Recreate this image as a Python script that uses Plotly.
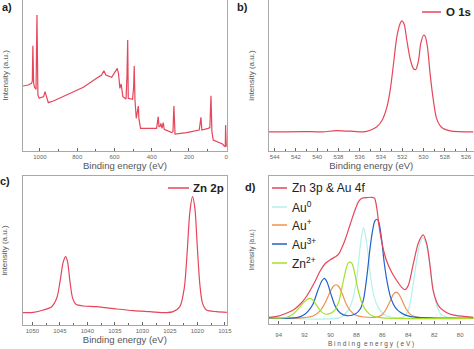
import plotly.graph_objects as go

# ---------------- data ----------------
# a) survey spectrum
a_be = [1091, 1063, 1045, 1041, 1038, 1034, 1029, 1021, 1016, 1011, 1004, 991, 980, 973, 968, 955,
        928, 857, 767, 696, 669, 657, 646, 615, 597, 585, 578, 571, 564, 555, 538, 533, 529, 526,
        503, 497, 494, 490, 483, 478, 472, 469, 460, 374, 369, 365, 361, 354, 351, 345, 338, 333,
        293, 286, 281, 275, 213, 145, 136, 131, 97, 88, 82, 77, 70, 34, 20, 11, 5, 3.6, 0]
a_int = [195, 198, 203, 210, 316, 203, 191, 185, 408, 168, 158, 161, 163, 178, 168, 145,
         150, 168, 191, 218, 228, 241, 228, 221, 235, 248, 231, 188, 201, 163, 156, 223, 333, 158,
         155, 193, 255, 153, 98, 123, 135, 98, 68, 68, 91, 103, 73, 75, 83, 68, 85, 65,
         55, 58, 135, 51, 55, 63, 101, 63, 68, 70, 166, 58, 33, 25, 21, 15, 13, 78, 13]

# b) O 1s
b_be = [544.53, 541.28, 539.5, 538.15, 535.64, 535.01, 534.39, 533.92, 533.45, 533.14, 532.82, 532.51,
        532.20, 532.04, 531.82, 531.57, 531.26, 530.94, 530.73, 530.47, 530.26, 530.00, 529.85,
        529.63, 529.38, 529.07, 528.75, 528.28, 527.50, 525.31]
b_int = [57, 58, 57, 61, 57, 62, 72, 90, 130, 180, 260, 340, 380, 388, 378, 330, 275, 245, 243,
         270, 320, 345, 342, 310, 230, 150, 95, 70, 60, 57]

# c) Zn 2p
c_be = [1051.76, 1049.82, 1048.0, 1046.49, 1045.58, 1044.97, 1044.37, 1043.94, 1043.58, 1043.16,
        1042.67, 1042.07, 1040.73, 1038.31, 1034.68, 1031.65, 1028.62, 1025.59, 1024.38, 1023.17,
        1022.38, 1021.84, 1021.35, 1020.87, 1020.44, 1020.02, 1019.53, 1019.05, 1018.32, 1016.51,
        1014.63]
c_int = [37, 38, 45, 55, 80, 130, 190, 205, 188, 130, 80, 62, 57, 55, 48, 43, 40, 37, 40, 55,
         110, 220, 340, 385, 350, 240, 120, 65, 45, 40, 38]

# d) Zn 3p & Au 4f envelope and components
d_env_be = [94.77, 94.13, 93.36, 92.84, 92.33, 91.82, 91.30, 90.79, 90.40, 90.02, 89.63, 89.38, 89.12,
            88.86, 88.48, 88.09, 87.84, 87.58, 87.19, 86.81, 86.60, 86.42, 86.22, 85.96, 85.65, 85.27,
            84.88, 84.50, 84.26, 84.01, 83.62, 83.21, 82.85, 82.57, 82.34, 82.08, 81.80, 81.57, 81.16,
            80.80, 80.26, 79.51, 78.97]
d_env_int = [20, 23, 33, 43, 60, 85, 120, 160, 182, 193, 202, 210, 230, 255, 300, 345, 368, 378, 380,
             381, 378, 345, 285, 230, 187, 155, 130, 110, 103, 115, 180, 245, 268, 240, 180, 100, 65,
             50, 37, 30, 25, 22, 20]

au0_be = [94.77, 89.25, 88.89, 88.50, 88.22, 87.99, 87.76, 87.60, 87.45, 87.30, 87.12, 86.88, 86.63,
          86.32, 85.93, 85.39, 84.62, 84.37, 84.01, 83.62, 83.34, 83.08, 82.85, 82.62, 82.36, 82.11,
          81.80, 81.49, 81.03, 78.97]
au0_int = [18, 19, 30, 50, 85, 133, 215, 265, 290, 265, 215, 133, 80, 50, 30, 21, 19, 21, 40, 120,
           195, 245, 260, 240, 185, 110, 55, 30, 21, 18]

aup_be = [94.77, 92.07, 91.30, 90.79, 90.40, 90.07, 89.81, 89.58, 89.35, 89.09, 88.79, 88.48, 88.09,
          87.45, 86.42, 86.04, 85.70, 85.39, 85.14, 84.93, 84.73, 84.47, 84.16, 83.85, 83.34, 78.97]
aup_int = [17, 19, 25, 40, 65, 93, 112, 118, 112, 90, 60, 40, 27, 21, 21, 27, 45, 70, 90, 96, 90, 70,
           45, 29, 21, 17]

au3_be = [94.77, 92.59, 92.07, 91.69, 91.35, 90.99, 90.66, 90.48, 90.28, 89.97, 89.63, 89.25, 88.73,
          88.09, 87.71, 87.45, 87.19, 86.96, 86.76, 86.58, 86.42, 86.27, 86.06, 85.86, 85.60, 85.34,
          85.01, 84.62, 84.11, 83.34, 78.97]
au3_int = [17, 19, 27, 40, 60, 100, 130, 137, 127, 90, 53, 33, 25, 30, 45, 75, 145, 225, 280, 310,
           315, 305, 255, 185, 120, 77, 50, 35, 25, 20, 17]

zn_be = [94.77, 93.36, 92.90, 92.46, 92.07, 91.82, 91.61, 91.38, 91.05, 90.74, 90.43, 90.07, 89.71,
         89.38, 89.09, 88.84, 88.66, 88.50, 88.32, 88.12, 87.86, 87.55, 87.19, 86.81, 86.17, 78.97]
zn_int = [18, 20, 30, 47, 65, 74, 77, 73, 55, 38, 30, 31, 40, 65, 115, 160, 182, 187, 180, 150, 100,
          60, 37, 25, 19, 17]

a_ticks = [1000, 800, 600, 400, 200, 0]
b_ticks = [544, 542, 540, 538, 536, 534, 532, 530, 528, 526]
c_ticks = [1050, 1045, 1040, 1035, 1030, 1025, 1020, 1015]
d_ticks = [94, 92, 90, 88, 86, 84, 82, 80]

# ---------------- style ----------------
RED = "#e6455a"
CYAN = "#b4f0ec"
ORANGE = "#f0904c"
BLUE = "#2462c8"
GREEN = "#a4e02a"
FRAME = "#a8a8a8"
FONT = "Liberation Sans, Arial, sans-serif"

W, H = 474, 349
def px(x):
    return x / W
def py(y):
    return 1 - y / H

fig = go.Figure()
lw = 1.2
fig.add_trace(go.Scatter(x=a_be, y=a_int, mode="lines", line=dict(color=RED, width=lw),
                         xaxis="x", yaxis="y", showlegend=False))
fig.add_trace(go.Scatter(x=b_be, y=b_int, mode="lines", line=dict(color=RED, width=lw, shape="spline", smoothing=0.8),
                         xaxis="x2", yaxis="y2", showlegend=False))
fig.add_trace(go.Scatter(x=c_be, y=c_int, mode="lines", line=dict(color=RED, width=lw, shape="spline", smoothing=0.8),
                         xaxis="x3", yaxis="y3", showlegend=False))
for xs, ys, col in [(au0_be, au0_int, CYAN), (aup_be, aup_int, ORANGE), (au3_be, au3_int, BLUE),
                    (zn_be, zn_int, GREEN), (d_env_be, d_env_int, RED)]:
    fig.add_trace(go.Scatter(x=xs, y=ys, mode="lines",
                             line=dict(color=col, width=lw, shape="spline", smoothing=0.8),
                             xaxis="x4", yaxis="y4", showlegend=False))

def xax(domain, rng, ticks, minor_dt, anchor, mirror, title, tsize=9.5, standoff=3, tfs=6, tls=0):
    return dict(domain=domain, range=rng, anchor=anchor, tickvals=ticks,
                ticktext=[str(t) for t in ticks], ticks="inside", ticklen=3, tickcolor="#666",
                tickfont=dict(size=tfs, color="#666", family=FONT), ticklabelstandoff=tls,
                showline=True, linecolor=FRAME, linewidth=1, mirror=mirror,
                showgrid=False, zeroline=False, automargin=False,
                title=dict(text=title, font=dict(size=tsize, color="#555", family=FONT), standoff=standoff),
                minor=dict(dtick=minor_dt, ticks="inside", ticklen=2, tickcolor="#666", showgrid=False))

def yax(domain, rng, anchor, title, tsize=8, standoff=12):
    return dict(domain=domain, range=rng, anchor=anchor, showticklabels=False, ticks="",
                showline=True, linecolor=FRAME, linewidth=1, mirror=True,
                showgrid=False, zeroline=False, automargin=False,
                title=dict(text=title, font=dict(size=tsize, color="#555", family=FONT), standoff=standoff))

fig.update_layout(
    width=W, height=H, margin=dict(l=0, r=0, t=0, b=0),
    paper_bgcolor="white", plot_bgcolor="white",
    xaxis=xax([px(23), px(227)], [1091, -4], a_ticks, 100, "y", False, "Binding energy (eV)"),
    yaxis=yax([py(151), 1], [0, 453], "x", "Intensity (a.u.)"),
    xaxis2=xax([px(269), px(473.5)], [544.53, 525.3], b_ticks, 1, "y2", False, "Binding energy (eV)"),
    yaxis2=yax([py(151), 1], [0, 450], "x2", "intensity (a.u.)"),
    xaxis3=xax([px(22.7), px(227)], [1051.76, 1014.6], c_ticks, 2.5, "y3", True, "Binding energy (eV)"),
    yaxis3=yax([py(325), py(176)], [0, 447], "x3", "intensity (a.u.)"),
    xaxis4=xax([px(268.7), px(473.5)], [94.77, 78.97], d_ticks, 1, "y4", True,
               "B i n d i n g  e n e r g y  ( e V )", tsize=6.5, standoff=4, tls=5),
    yaxis4=yax([py(324), py(176)], [0, 445], "x4", "Intensity (a.u.)", tsize=6.5),
)

ann = []
def text(x, y, s, size, color="#444", bold=False, angle=0, xanchor="center"):
    ann.append(dict(x=px(x), y=py(y), xref="paper", yref="paper", text=("<b>%s</b>" % s) if bold else s,
                    showarrow=False, textangle=angle, xanchor=xanchor, yanchor="middle",
                    font=dict(size=size, color=color, family=FONT)))

# panel labels
text(7, 7, "a)", 11, "#222", True)
text(243, 7, "b)", 11, "#222", True)
text(5, 181, "c)", 11, "#222", True)
text(250, 187, "d)", 11, "#222", True)

# legends
shapes = []
def leg(x0, x1, y, col, label, size, bold, tx):
    shapes.append(dict(type="line", xref="paper", yref="paper", x0=px(x0), x1=px(x1), y0=py(y), y1=py(y),
                       line=dict(color=col, width=1.5)))
    text(tx, y, label, size, "#222", bold, xanchor="left")

leg(422, 441, 12, RED, "O 1s", 11.5, True, 444)
leg(168, 189, 188, RED, "Zn 2p", 11.5, True, 191)
leg(272, 287, 188, RED, "Zn 3p &amp; Au 4f", 12, False, 290)
leg(272, 287, 207, CYAN, "Au<sup>0</sup>", 12, False, 290)
leg(272, 287, 225, ORANGE, "Au<sup>+</sup>", 12, False, 290)
leg(272, 287, 244, BLUE, "Au<sup>3+</sup>", 12, False, 290)
leg(272, 287, 263, GREEN, "Zn<sup>2+</sup>", 12, False, 290)

fig.update_layout(annotations=ann, shapes=shapes)
fig.write_html("out.html")
